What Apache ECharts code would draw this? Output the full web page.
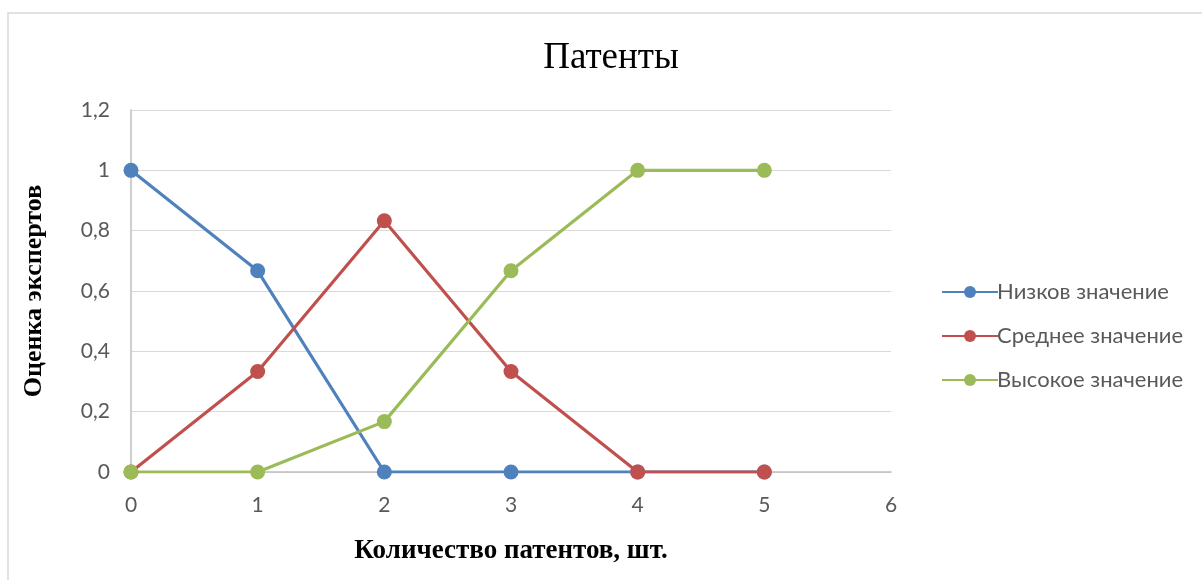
<!DOCTYPE html>
<html>
<head>
<meta charset="utf-8">
<script src="https://cdn.jsdelivr.net/npm/echarts@6/dist/echarts.min.js"></script>
<style>
  html, body { margin: 0; padding: 0; background: #fff; }
  #chart { width: 1202px; height: 580px; }
</style>
</head>
<body>
<div id="chart"></div>
<script>
  // количество патентов
  var xValues = [0, 1, 2, 3, 4, 5];
  var lowValues = [1, 0.667, 0, 0, 0, 0];
  var midValues = [0, 0.333, 0.833, 0.333, 0, 0];
  var highValues = [0, 0, 0.167, 0.667, 1, 1];
  var seriesNames = ['Низков значение', 'Среднее значение', 'Высокое значение'];
  var seriesColors = ['#4f81bd', '#c0504d', '#9bbb59'];

  function pairs(ys) {
    return xValues.map(function (x, i) { return [x, ys[i]]; });
  }

  var chart = echarts.init(document.getElementById('chart'));
  var allValues = [lowValues, midValues, highValues];

  var option = {
    backgroundColor: '#fff',
    animation: false,
    title: {
      text: 'Патенты',
      left: 606,
      textAlign: 'center',
      top: 35,
      textStyle: { fontFamily: 'Liberation Serif', fontSize: 37, fontWeight: 'normal', color: '#000' }
    },
    graphic: [{
      type: 'rect',
      shape: { x: 8, y: 13, width: 1220, height: 600 },
      style: { fill: 'none', stroke: '#d9d9d9', lineWidth: 1.5 },
      silent: true
    }],
    legend: {
      orient: 'vertical',
      left: 936,
      top: 276,
      itemWidth: 56,
      itemHeight: 15,
      itemGap: 22,
      data: seriesNames,
      textStyle: { fontFamily: 'Lato', fontSize: 22, color: '#595959', padding: [0, 0, 0, -6] }
    },
    grid: { left: 131, right: 311, top: 110, bottom: 108 },
    xAxis: {
      type: 'value',
      min: 0, max: 6, interval: 1,
      name: 'Количество патентов, шт.',
      nameLocation: 'middle',
      nameGap: 66,
      nameTextStyle: { fontFamily: 'Liberation Serif', fontSize: 27, fontWeight: 'bold', color: '#000' },
      axisLine: { show: true, lineStyle: { color: '#bfbfbf', width: 1.5 } },
      axisTick: { show: false },
      splitLine: { show: false },
      axisLabel: { fontFamily: 'Lato', fontSize: 21, color: '#595959', margin: 23 }
    },
    yAxis: {
      type: 'value',
      min: 0, max: 1.2, interval: 0.2,
      name: 'Оценка экспертов',
      nameLocation: 'middle',
      nameGap: 84,
      nameTextStyle: { fontFamily: 'Liberation Serif', fontSize: 26, fontWeight: 'bold', color: '#000' },
      axisLine: { show: true, lineStyle: { color: '#bfbfbf', width: 1.5 } },
      axisTick: { show: false },
      splitLine: { show: true, lineStyle: { color: '#d9d9d9', width: 1.2 } },
      axisLabel: {
        fontFamily: 'Lato', fontSize: 21, color: '#595959', margin: 21,
        formatter: function (v) { return String(Math.round(v * 10) / 10).replace('.', ','); }
      }
    },
    series: seriesNames.map(function (name, i) {
      return {
        name: name,
        type: 'line',
        data: pairs(allValues[i]),
        symbol: 'circle',
        symbolSize: 15,
        color: seriesColors[i],
        lineStyle: { width: 3.2, color: seriesColors[i] },
        itemStyle: { color: seriesColors[i] }
      };
    })
  };

  chart.setOption(option);
</script>
</body>
</html>
